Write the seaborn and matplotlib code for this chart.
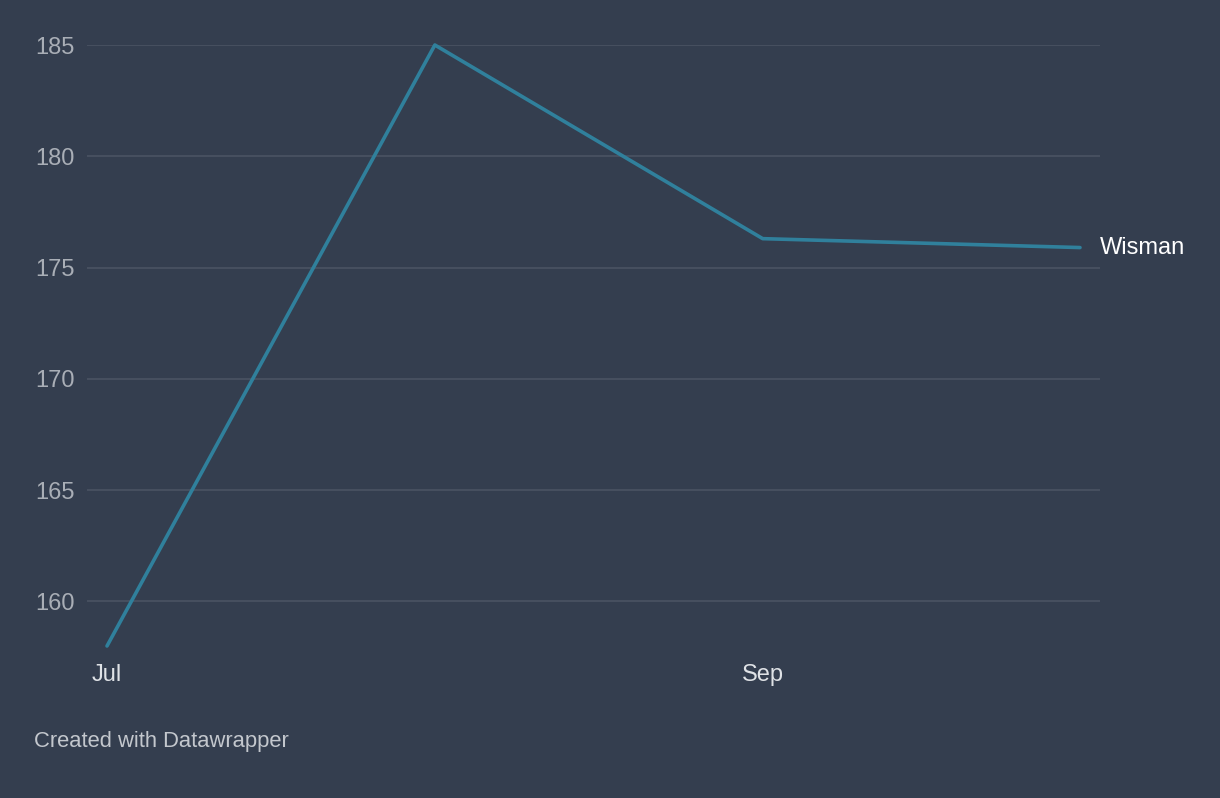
import pandas as pd
import matplotlib
matplotlib.use('Agg')
import matplotlib.pyplot as plt
import matplotlib.dates as mdates
import seaborn as sns

# data (monthly points)
dates = ["2020-07-01", "2020-08-01", "2020-09-01", "2020-10-01"]
values = [158.0, 185.0, 176.3, 175.9]
series_name = "Wisman"
y_ticks = [160, 165, 170, 175, 180, 185]
x_tick_dates = ["2020-07-01", "2020-09-01"]
x_tick_labels = ["Jul", "Sep"]

bg = "#343e4f"
line_color = "#30809c"
grid_color = "#4c5564"

sns.set_theme(style="white")
plt.rcParams['font.family'] = ['Liberation Sans', 'DejaVu Sans']

df = pd.DataFrame({"date": pd.to_datetime(dates), "value": values})

fig = plt.figure(figsize=(12.2, 7.98), dpi=100, facecolor=bg)
ax = fig.add_axes([87 / 1220, 1 - 646 / 798, 1013 / 1220, 601 / 798])
ax.set_facecolor(bg)

sns.lineplot(data=df, x="date", y="value", ax=ax, color=line_color,
             linewidth=2.6, clip_on=False, solid_capstyle="round")

# 20px of padding on each side of the data, ~10.58 px per day
pad = pd.Timedelta(days=20 / 10.576)
ax.set_xlim(df["date"].iloc[0] - pad, df["date"].iloc[-1] + pad)
ax.set_ylim(158, 185)

ax.set_yticks(y_ticks)
ax.set_yticklabels([str(t) for t in y_ticks], color="#a9aeb6", fontsize=17)
ax.set_xticks(mdates.date2num(pd.to_datetime(x_tick_dates)))
ax.set_xticklabels(x_tick_labels, color="#dfe2e6", fontsize=17)
ax.tick_params(axis="y", length=0, pad=9)
ax.tick_params(axis="x", length=0, pad=13)

for t in y_ticks:
    ax.axhline(t, color=grid_color, linewidth=1.1, zorder=0)
for s in ax.spines.values():
    s.set_visible(False)
ax.set_xlabel("")
ax.set_ylabel("")

ax.annotate(series_name, xy=(df["date"].iloc[-1], values[-1]), xytext=(14.5, 0),
            textcoords="offset points", color="white", fontsize=17,
            va="center", ha="left", annotation_clip=False)

fig.text(34 / 1220, 1 - 741 / 798, "Created with Datawrapper", color="#c3c7cd",
         fontsize=15.8, va="center", ha="left")

fig.savefig("out.png", dpi=100, facecolor=bg)
